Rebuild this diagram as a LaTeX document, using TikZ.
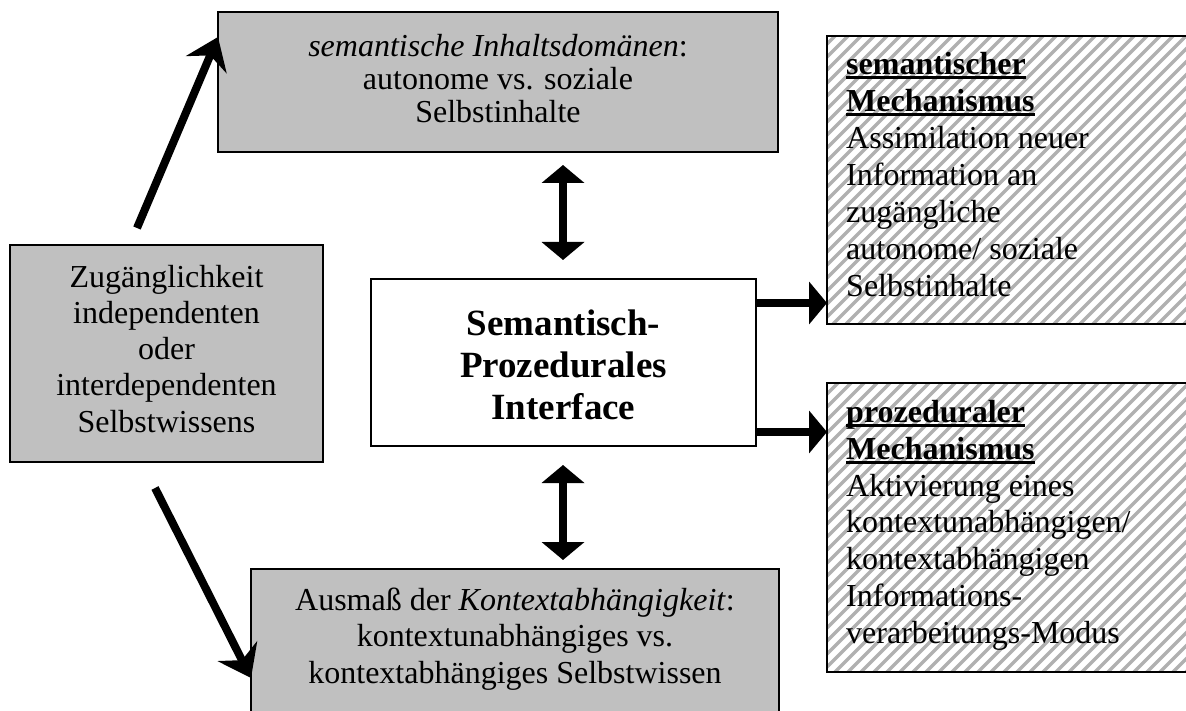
\documentclass[tikz,border=0pt]{standalone}
\usepackage{fontspec}
\setmainfont{Liberation Serif}
\usetikzlibrary{arrows.meta}
\definecolor{boxgray}{HTML}{C0C0C0}
\definecolor{hatchgray}{HTML}{B0B0B0}
\newcommand\myul[1]{\setbox0\hbox{#1}\rlap{\rule[-4pt]{\wd0}{2.6pt}}\box0}
\tikzset{
  frame/.style={draw=black, line width=1.6pt, inner sep=0pt},
  graybox/.style={frame, fill=boxgray},
  whitebox/.style={frame, fill=white},
  reg/.style={font=\fontsize{32}{36.5}\selectfont, inner sep=0pt},
  big/.style={font=\bfseries\fontsize{37}{42}\selectfont, inner sep=0pt},
  hatchline/.style={draw=hatchgray, line width=3.4pt},
  fat/.style={line width=8pt, -{Triangle[length=18pt,width=42pt]}},
  fatboth/.style={line width=8pt, {Triangle[length=18pt,width=42pt]}-{Triangle[length=18pt,width=42pt]}},
  diag/.style={line width=8pt, -{Stealth[length=30pt,width=44pt,inset=10pt]}},
}
\begin{document}
\begin{tikzpicture}[x=1pt,y=-1pt]
\useasboundingbox (0,0) rectangle (1186,711);
\clip (0,0) rectangle (1186,711);
% boxes
\node[graybox, minimum width=560pt, minimum height=140pt] (top) at (498,82) {};
\node[graybox, minimum width=313pt, minimum height=217pt] (left) at (166.5,353.5) {};
\node[whitebox, minimum width=385pt, minimum height=167pt] (mid) at (563.5,362.5) {};
\node[graybox, minimum width=528pt, minimum height=170pt] (bot) at (515,654) {};
\node[frame, minimum width=400pt, minimum height=288pt] (rtop) at (1027,180) {};
\node[frame, minimum width=400pt, minimum height=289pt] (rbot) at (1027,527.5) {};
% hatching
\begin{scope}
\clip (827.8,36.8) rectangle (1230,323.2);
\foreach \i in {-25,...,35} \draw[hatchline] (827+\i*13,330) -- ++(300,-300);
\end{scope}
\begin{scope}
\clip (827.8,383.8) rectangle (1230,671.2);
\foreach \i in {-25,...,35} \draw[hatchline] (827+\i*13,680) -- ++(300,-300);
\end{scope}
\node[frame] at (rtop) [minimum width=400pt, minimum height=288pt] {};
\node[frame] at (rbot) [minimum width=400pt, minimum height=289pt] {};
% texts (anchor=base sits on the last line's baseline)
\node[reg, align=center, anchor=base, font=\fontsize{32}{33}\selectfont] (toptxt) at (498,123) {\textit{semantische Inhaltsdomänen}:\\autonome vs. soziale\\Selbstinhalte};
\node[reg, align=center, anchor=base, font=\fontsize{32}{36.25}\selectfont] (lefttxt) at (166.5,432) {Zugänglichkeit\\independenten\\oder\\interdependenten\\Selbstwissens};
\node[big, align=center, anchor=base] (midtxt) at (563.5,419) {Semantisch-\\Prozedurales\\Interface};
\node[reg, align=center, anchor=base] (bottxt) at (515,683) {Ausmaß der \textit{Kontextabhängigkeit}:\\kontextunabhängiges vs.\\kontextabhängiges Selbstwissen};
\node[reg, align=left, anchor=base west, font=\fontsize{32}{37}\selectfont] (rtoptxt) at (846,297) {\myul{\textbf{semantischer}}\\\myul{\textbf{Mechanismus}}\\Assimilation neuer\\Information an\\zugängliche\\autonome/ soziale\\Selbstinhalte};
\node[reg, align=left, anchor=base west, font=\fontsize{32}{36.7}\selectfont] (rbottxt) at (846,643) {\myul{\textbf{prozeduraler}}\\\myul{\textbf{Mechanismus}}\\Aktivierung eines\\kontextunabhängigen/\\kontextabhängigen\\Informations-\\verarbeitungs-Modus};
% arrow end points
\coordinate (d1s) at (137,228);
\coordinate (d1e) at (218,37);
\coordinate (d2s) at (155,488);
\coordinate (d2e) at (251,678);
\coordinate (v1s) at (563,165);
\coordinate (v1e) at (563,260);
\coordinate (v2s) at (563,465);
\coordinate (v2e) at (563,560);
\coordinate (h1) at (827,303);
\coordinate (h2) at (827,432);
% arrows
\draw[diag] (d1s) -- (d1e);
\draw[diag] (d2s) -- (d2e);
\draw[fatboth] (v1s) -- (v1e);
\draw[fatboth] (v2s) -- (v2e);
\draw[fat] (mid.east |- h1) -- (h1);
\draw[fat] (mid.east |- h2) -- (h2);
\end{tikzpicture}
\end{document}
